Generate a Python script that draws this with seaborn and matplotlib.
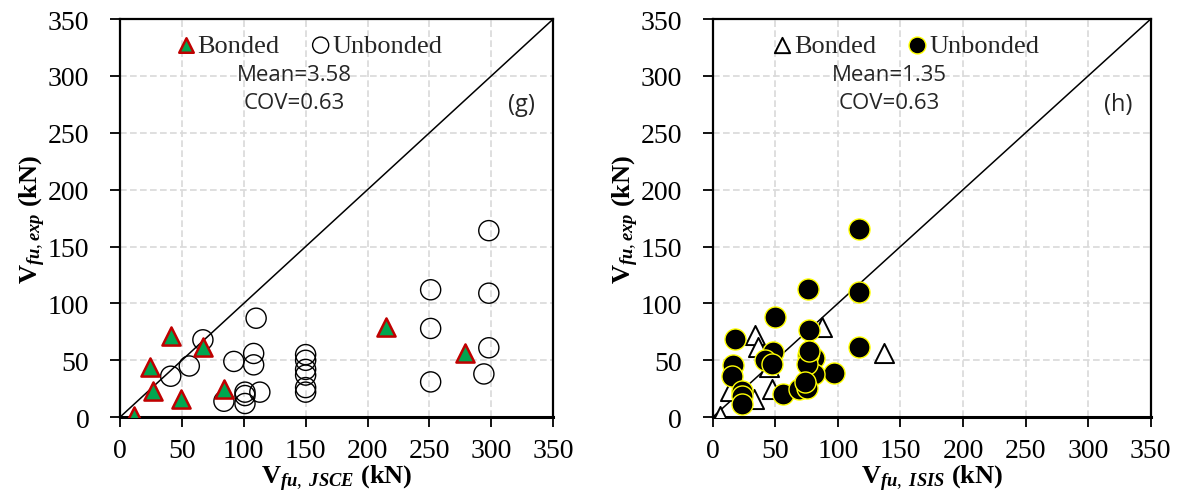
import numpy as np
import pandas as pd
import matplotlib
matplotlib.use("Agg")
import matplotlib.pyplot as plt
import seaborn as sns

# ---- Data ----
# Panel (g): JSCE
g_bonded_x = [11, 24, 27, 41, 49, 67, 84, 215, 279]
g_bonded_y = [1, 44, 23, 71, 16, 62, 25, 79, 56]
g_unbonded_x = [67, 41, 56, 84, 92, 110, 108, 108, 101, 101, 101, 113,
                150, 150, 150, 150, 150, 150, 251, 251, 251, 298, 298, 298, 294]
g_unbonded_y = [68, 36, 45, 14, 49, 87, 56, 46, 22, 19, 12, 22,
                55, 50, 42, 37, 26, 22, 112, 78, 31, 164, 109, 61, 38]

# Panel (h): ISIS
h_bonded_x = [6, 34, 36, 14, 33, 47, 87, 137, 45]
h_bonded_y = [1, 72, 62, 23, 16, 25, 79, 56, 44]
h_unbonded_x = [117, 117, 76, 77, 117, 97, 81, 81, 76, 75, 50, 18, 48,
                42, 47, 16, 15, 23, 23, 23, 56, 69, 75, 74, 77]
h_unbonded_y = [165, 110, 113, 77, 62, 39, 52, 38, 55, 47, 88, 69, 57,
                50, 47, 46, 36, 23, 19, 12, 20, 25, 26, 31, 58]

ticks = [0, 50, 100, 150, 200, 250, 300, 350]
g_stats = ["Mean=3.58", "COV=0.63"]
h_stats = ["Mean=1.35", "COV=0.63"]

sns.set_theme(style="white")
plt.rcParams["font.family"] = ["Liberation Serif", "DejaVu Serif"]
plt.rcParams["mathtext.fontset"] = "custom"
plt.rcParams["mathtext.rm"] = "Liberation Serif"
plt.rcParams["mathtext.it"] = "Liberation Serif:italic:bold"
plt.rcParams["mathtext.bf"] = "Liberation Serif:bold"

fig = plt.figure(figsize=(11.82, 5.02), dpi=100)
ax1 = fig.add_axes([0.1015, 0.167, 0.3665, 0.793])
ax2 = fig.add_axes([0.603, 0.167, 0.3705, 0.793])


def make_df(bx, by, ux, uy):
    return pd.DataFrame({
        "x": list(bx) + list(ux),
        "y": list(by) + list(uy),
        "type": ["Bonded"] * len(bx) + ["Unbonded"] * len(ux),
    })


def style_axes(ax, xlabel, stats, tag):
    ax.set_xlim(0, 350)
    ax.set_ylim(0, 350)
    ax.set_xticks(ticks)
    ax.set_yticks(ticks)
    ax.tick_params(axis="both", which="major", direction="out", length=7,
                   width=1.3, labelsize=20, pad=8, color="black",
                   labelcolor="black",
                   bottom=True, left=True, top=False, right=False)
    ax.tick_params(axis="y", pad=15)
    for lab in ax.get_xticklabels() + ax.get_yticklabels():
        lab.set_fontfamily("Liberation Serif")
    ax.grid(True, color="#d9d9d9", linestyle=(0, (4, 2)), linewidth=1.2)
    ax.set_axisbelow(True)
    for s in ax.spines.values():
        s.set_visible(True)
        s.set_color("black")
        s.set_linewidth(1.6)
    ax.spines["bottom"].set_linewidth(2.2)
    ax.plot([0, 350], [0, 350], color="black", linewidth=1.1, zorder=1.5)
    ax.set_xlabel(xlabel, fontsize=19, fontweight="bold", labelpad=0,
                  color="black")
    ax.set_ylabel(r"V$_{fu,exp}$ (kN)", fontsize=19, fontweight="bold",
                  labelpad=0, color="black")
    ax.text(141, 301, stats[0], ha="center", va="center", fontsize=16,
            family="Open Sans")
    ax.text(141, 277, stats[1], ha="center", va="center", fontsize=16,
            family="Open Sans")
    ax.text(324, 275, tag, ha="center", va="center", fontsize=17,
            family="Open Sans")


leg_kw = dict(loc="upper center", ncol=2, frameon=False, fontsize=19,
              handlelength=0.8, handletextpad=0.05, columnspacing=1.15,
              markerscale=0.8, borderaxespad=0.3)

# ---- Panel (g) ----
dfg = make_df(g_bonded_x, g_bonded_y, g_unbonded_x, g_unbonded_y)
sns.scatterplot(data=dfg[dfg["type"] == "Unbonded"], x="x", y="y", ax=ax1,
                marker="o", s=210, facecolor="none", edgecolor="black",
                linewidth=1.0, label="Unbonded", zorder=3)
sns.scatterplot(data=dfg[dfg["type"] == "Bonded"], x="x", y="y", ax=ax1,
                marker="^", s=170, color="#00A650", edgecolor="#C00000",
                linewidth=1.8, label="Bonded", zorder=4)
style_axes(ax1, r"V$_{fu,\ JSCE}$ (kN)", g_stats, "(g)")
h, l = ax1.get_legend_handles_labels()
ax1.legend([h[1], h[0]], [l[1], l[0]], bbox_to_anchor=(0.436, 1.01),
           **leg_kw)

# ---- Panel (h) ----
dfh = make_df(h_bonded_x, h_bonded_y, h_unbonded_x, h_unbonded_y)
sns.scatterplot(data=dfh[dfh["type"] == "Bonded"], x="x", y="y", ax=ax2,
                marker="^", s=190, facecolor="white", edgecolor="black",
                linewidth=1.4, label="Bonded", zorder=3)
sns.scatterplot(data=dfh[dfh["type"] == "Unbonded"], x="x", y="y", ax=ax2,
                marker="o", s=230, color="black", edgecolor="#FFFF00",
                linewidth=1.0, label="Unbonded", zorder=4)
style_axes(ax2, r"V$_{fu,\ ISIS}$ (kN)", h_stats, "(h)")
ax2.legend(bbox_to_anchor=(0.44, 1.01), **leg_kw)

fig.savefig("out.png", dpi=100)
